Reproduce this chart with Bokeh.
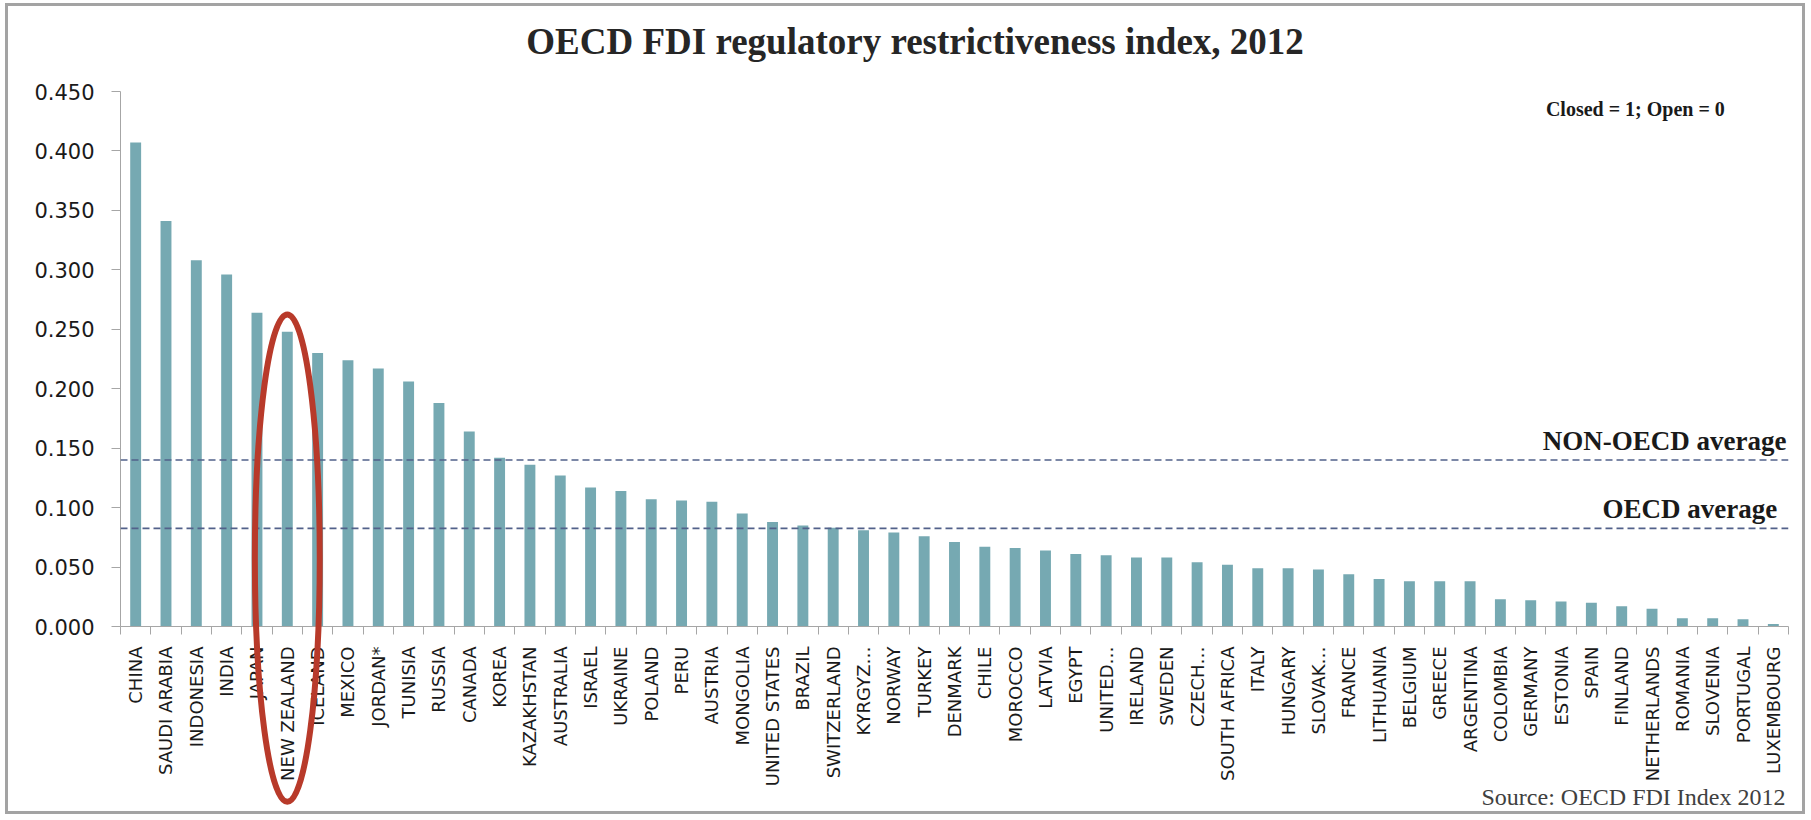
import math
from bokeh.plotting import figure
from bokeh.models import (FactorRange, Range1d, LinearAxis, CategoricalAxis, FixedTicker,
                          NumeralTickFormatter, Span, Label, ColumnDataSource)
from bokeh.core.properties import value
from bokeh.embed import file_html
from bokeh.resources import INLINE

countries = ["CHINA", "SAUDI ARABIA", "INDONESIA", "INDIA", "JAPAN", "NEW ZEALAND", "ICELAND",
             "MEXICO", "JORDAN*", "TUNISIA", "RUSSIA", "CANADA", "KOREA", "KAZAKHSTAN",
             "AUSTRALIA", "ISRAEL", "UKRAINE", "POLAND", "PERU", "AUSTRIA", "MONGOLIA",
             "UNITED STATES", "BRAZIL", "SWITZERLAND", "KYRGYZ\u2026", "NORWAY", "TURKEY",
             "DENMARK", "CHILE", "MOROCCO", "LATVIA", "EGYPT", "UNITED\u2026", "IRELAND",
             "SWEDEN", "CZECH\u2026", "SOUTH AFRICA", "ITALY", "HUNGARY", "SLOVAK\u2026", "FRANCE",
             "LITHUANIA", "BELGIUM", "GREECE", "ARGENTINA", "COLOMBIA", "GERMANY", "ESTONIA",
             "SPAIN", "FINLAND", "NETHERLANDS", "ROMANIA", "SLOVENIA", "PORTUGAL", "LUXEMBOURG"]

values = [0.407, 0.341, 0.308, 0.296, 0.264, 0.248, 0.230,
          0.224, 0.217, 0.206, 0.188, 0.164, 0.142, 0.136,
          0.127, 0.117, 0.114, 0.107, 0.106, 0.105, 0.095,
          0.088, 0.085, 0.083, 0.081, 0.079, 0.076,
          0.071, 0.067, 0.066, 0.064, 0.061, 0.060, 0.058,
          0.058, 0.054, 0.052, 0.049, 0.049, 0.048, 0.044,
          0.040, 0.038, 0.038, 0.038, 0.023, 0.022, 0.021,
          0.020, 0.017, 0.015, 0.007, 0.007, 0.006, 0.002]

y_ticks = [0.0, 0.05, 0.10, 0.15, 0.20, 0.25, 0.30, 0.35, 0.40, 0.45]
non_oecd_average = 0.140
oecd_average = 0.0825
highlight = "NEW ZEALAND"

title_text = "OECD FDI regulatory restrictiveness index, 2012"
scale_note = "Closed = 1; Open = 0"
source_note = "Source: OECD FDI Index 2012"

BAR = "#76a9b2"
AXIS_GRAY = "#a6a6a6"
DASH = "#52618a"
RED = "#b83a2a"

src = ColumnDataSource(data=dict(country=countries, value=values))
n = len(countries)

p = figure(width=1800, height=811, x_range=FactorRange(*countries), y_range=Range1d(0, 0.45),
           output_backend="svg", toolbar_location=None, x_axis_location=None,
           min_border_left=112, min_border_right=20, min_border_top=85, min_border_bottom=191,
           styles={"border": "3px solid #a3a3a3", "margin-left": "5px", "margin-top": "3px"})
p.outline_line_color = None
p.grid.visible = False
p.background_fill_color = "white"
p.border_fill_color = "white"

# y axis
ya = p.yaxis[0]
ya.ticker = FixedTicker(ticks=y_ticks)
ya.formatter = NumeralTickFormatter(format="0.000")
ya.axis_line_color = AXIS_GRAY
ya.major_tick_line_color = AXIS_GRAY
ya.major_tick_out = 9
ya.major_tick_in = 0
ya.minor_tick_line_color = None
ya.major_label_text_font = "DejaVu Sans"
ya.major_label_text_font_size = "21px"
ya.major_label_text_color = "#1a1a1a"
ya.major_label_standoff = 17

# x axis: ticks on category boundaries (synthetic coordinates) + category labels
edge_axis = LinearAxis(ticker=FixedTicker(ticks=list(range(n + 1))),
                       major_label_text_font_size="1px", major_label_text_color=None,
                       major_label_standoff=0,
                       major_tick_out=8, major_tick_in=0, minor_tick_line_color=None,
                       axis_line_color=AXIS_GRAY, major_tick_line_color=AXIS_GRAY)
p.add_layout(edge_axis, "below")

cat_axis = CategoricalAxis(major_tick_line_color=None, axis_line_color=None,
                           major_label_orientation=math.pi / 2,
                           major_label_text_font="DejaVu Sans", major_label_text_font_size="18px",
                           major_label_text_color="#1a1a1a", major_label_standoff=6)
p.add_layout(cat_axis, "below")

p.vbar(x="country", top="value", width=0.36, source=src, fill_color=BAR, line_color=None)

for loc in (non_oecd_average, oecd_average):
    p.add_layout(Span(location=loc, dimension="width", line_color=DASH, line_width=1.6,
                      line_dash="7 4"))

p.add_layout(Label(x=54.93, y=non_oecd_average + 0.016,
                   text="NON-OECD average", text_align="right", text_baseline="alphabetic",
                   text_font="Liberation Serif", text_font_style="bold", text_font_size="27px",
                   text_color="#1a1a1a"))
p.add_layout(Label(x=54.63, y=oecd_average + 0.0167,
                   text="OECD average", text_align="right", text_baseline="alphabetic",
                   text_font="Liberation Serif", text_font_style="bold", text_font_size="27px",
                   text_color="#1a1a1a"))
p.add_layout(Label(x=52.9, y=0.4357, text=scale_note, text_align="right",
                   text_baseline="middle", text_font="Liberation Serif", text_font_style="bold",
                   text_font_size="20px", text_color="#1a1a1a"))

# texts outside the plot frame (overlay level so they are not clipped)
p.text(x=[26.2], y=[0.492], text=[title_text], text_align="center", text_baseline="middle",
       text_font=value("Liberation Serif"), text_font_style="bold", text_font_size="37px",
       text_color="#262626", level="overlay")
p.text(x=[54.9], y=[-0.1436], text=[source_note], text_align="right", text_baseline="middle",
       text_font=value("Liberation Serif"), text_font_size="24px", text_color="#404040",
       level="overlay")

p.ellipse(x=[highlight], y=[0.0575], width=2.14, height=0.41, fill_color=None,
          line_color=RED, line_width=6, level="overlay")

open("out.html", "w").write(file_html(p, INLINE))
